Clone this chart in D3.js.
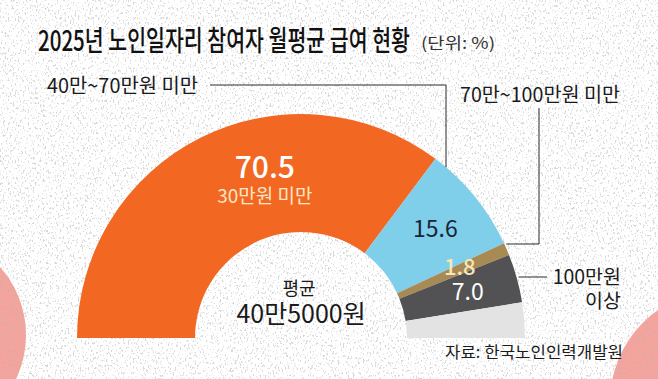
<!DOCTYPE html>
<html>
<head>
<meta charset="utf-8">
<script src="https://cdn.jsdelivr.net/npm/d3@7"></script>
<style>
  html, body { margin: 0; padding: 0; background: #fff; }
  svg { display: block; font-family: "Noto Sans CJK KR", "Noto Sans", sans-serif; }
</style>
</head>
<body>
<svg class="chart" width="658" height="379"></svg>
<script>
// 급여 구간별 참여자 비율 (단위: %)
const categories = ["30만원 미만", "40만~70만원 미만", "70만~100만원 미만", "100만원 이상", "기타"];
const values = [70.5, 15.6, 1.8, 7.0, 5.1];
const colors = ["#f26822", "#7fcfeb", "#a88a55", "#525254", "#e3e3e4"];
const valueLabels = ["70.5", "15.6", "1.8", "7.0", ""];

const W = 658, H = 379;
const cx = 301, cy = 338;
const outerR = 224, innerR = 106;

const svg = d3.select(".chart");

// 배경 질감
const defs = svg.append("defs");
const speck = defs.append("filter").attr("id", "speck")
  .attr("x", 0).attr("y", 0).attr("width", "100%").attr("height", "100%");
speck.append("feTurbulence")
  .attr("type", "fractalNoise")
  .attr("baseFrequency", "0.6 0.4")
  .attr("numOctaves", 2)
  .attr("seed", 7);
speck.append("feColorMatrix")
  .attr("type", "matrix")
  .attr("values", "0 0 0 0 0.45  0 0 0 0 0.45  0 0 0 0 0.45  8 0 0 0 -4.6");

svg.append("rect").attr("width", W).attr("height", H).attr("fill", "#fff");
svg.append("circle").attr("cx", -76).attr("cy", 335).attr("r", 102).attr("fill", "#f4a49c");
svg.append("circle").attr("cx", 722).attr("cy", 402).attr("r", 112).attr("fill", "#f4a49c");
svg.append("rect").attr("width", W).attr("height", H)
  .attr("filter", "url(#speck)").attr("opacity", 0.5);

// 제목
svg.append("text")
  .attr("x", 38).attr("y", 51)
  .attr("font-size", 28).attr("font-weight", 500).attr("fill", "#111")
  .attr("textLength", 372).attr("lengthAdjust", "spacingAndGlyphs")
  .text("2025년 노인일자리 참여자 월평균 급여 현황");
svg.append("text")
  .attr("x", 421).attr("y", 49)
  .attr("font-size", 16).attr("fill", "#333")
  .attr("textLength", 74).attr("lengthAdjust", "spacingAndGlyphs")
  .text("(단위: %)");

// 반원 도넛
const pie = d3.pie()
  .sort(null)
  .startAngle(-Math.PI / 2)
  .endAngle(Math.PI / 2)
  .value((d) => d.value);

const data = categories.map((c, i) => ({ label: c, value: values[i], color: colors[i], text: valueLabels[i] }));
const arcs = pie(data);

const arc = d3.arc().innerRadius(innerR).outerRadius(outerR);
const labelArc = d3.arc().innerRadius(173).outerRadius(173);

const $g = svg.append("g").attr("transform", `translate(${cx}, ${cy})`);

$g.selectAll("path")
  .data(arcs)
  .enter()
  .append("path")
  .attr("d", arc)
  .attr("fill", (d) => d.data.color);

// 값 라벨
const labelStyle = [
  { size: 30, color: "#fff", weight: 500, dy: 0 },
  { size: 23, color: "#1c2434", weight: 400, dy: 0 },
  { size: 22, color: "#f6e7b8", weight: 500, dy: -2 },
  { size: 23, color: "#fff", weight: 400, dy: 1 },
];

arcs.forEach((a, i) => {
  if (!a.data.text) return;
  let pos = labelArc.centroid(a);
  if (i === 0) {
    // 주황 라벨은 위쪽으로 배치
    const ang = -12 * Math.PI / 180;
    pos = [174 * Math.sin(ang), -174 * Math.cos(ang)];
  }
  const st = labelStyle[i];
  $g.append("text")
    .attr("x", pos[0])
    .attr("y", pos[1] + st.size * 0.33 + st.dy)
    .attr("text-anchor", "middle")
    .attr("font-size", st.size)
    .attr("font-weight", st.weight)
    .attr("fill", st.color)
    .text(a.data.text);
  if (i === 0) {
    $g.append("text")
      .attr("x", pos[0])
      .attr("y", pos[1] + 35)
      .attr("text-anchor", "middle")
      .attr("font-size", 19)
      .attr("fill", "#fde6c6")
      .text(a.data.label);
  }
});

// 평균
$g.append("text")
  .attr("x", -2).attr("y", -43)
  .attr("text-anchor", "middle")
  .attr("font-size", 18).attr("fill", "#1a1a1a")
  .text("평균");
$g.append("text")
  .attr("x", 0).attr("y", -15)
  .attr("text-anchor", "middle")
  .attr("font-size", 25).attr("fill", "#1a1a1a")
  .text("40만5000원");

// 연결선과 구간 라벨
const outerY = (x) => -Math.sqrt(outerR * outerR - x * x);
const outerX = (y) => Math.sqrt(outerR * outerR - y * y);

const line = d3.line();
const x1 = 446 - cx;
$g.append("path")
  .attr("d", line([[210 - cx, 85 - cy], [x1, 85 - cy], [x1, outerY(x1)]]))
  .attr("fill", "none").attr("stroke", "#2a2a2a").attr("stroke-width", 1);
svg.append("text")
  .attr("x", 47).attr("y", 93)
  .attr("font-size", 20).attr("fill", "#1a1a1a")
  .attr("textLength", 151).attr("lengthAdjust", "spacingAndGlyphs")
  .text(categories[1]);

const y2 = 244 - cy;
$g.append("path")
  .attr("d", line([[539 - cx, 108 - cy], [539 - cx, y2], [outerX(y2) + 2, y2]]))
  .attr("fill", "none").attr("stroke", "#2a2a2a").attr("stroke-width", 1);
svg.append("text")
  .attr("x", 460).attr("y", 102)
  .attr("font-size", 20).attr("fill", "#1a1a1a")
  .attr("textLength", 160).attr("lengthAdjust", "spacingAndGlyphs")
  .text(categories[2]);

const y3 = 277 - cy;
$g.append("path")
  .attr("d", line([[outerX(y3) + 2, y3], [547 - cx, y3]]))
  .attr("fill", "none").attr("stroke", "#2a2a2a").attr("stroke-width", 1);
const $lab = svg.append("text")
  .attr("text-anchor", "end")
  .attr("font-size", 19.5).attr("fill", "#1a1a1a");
$lab.append("tspan").attr("x", 621).attr("y", 284).text("100만원");
$lab.append("tspan").attr("x", 621).attr("y", 308).text("이상");

// 출처
svg.append("text")
  .attr("x", 445).attr("y", 358)
  .attr("font-size", 16).attr("fill", "#1a1a1a")
  .attr("textLength", 178).attr("lengthAdjust", "spacingAndGlyphs")
  .text("자료: 한국노인인력개발원");
</script>
</body>
</html>
